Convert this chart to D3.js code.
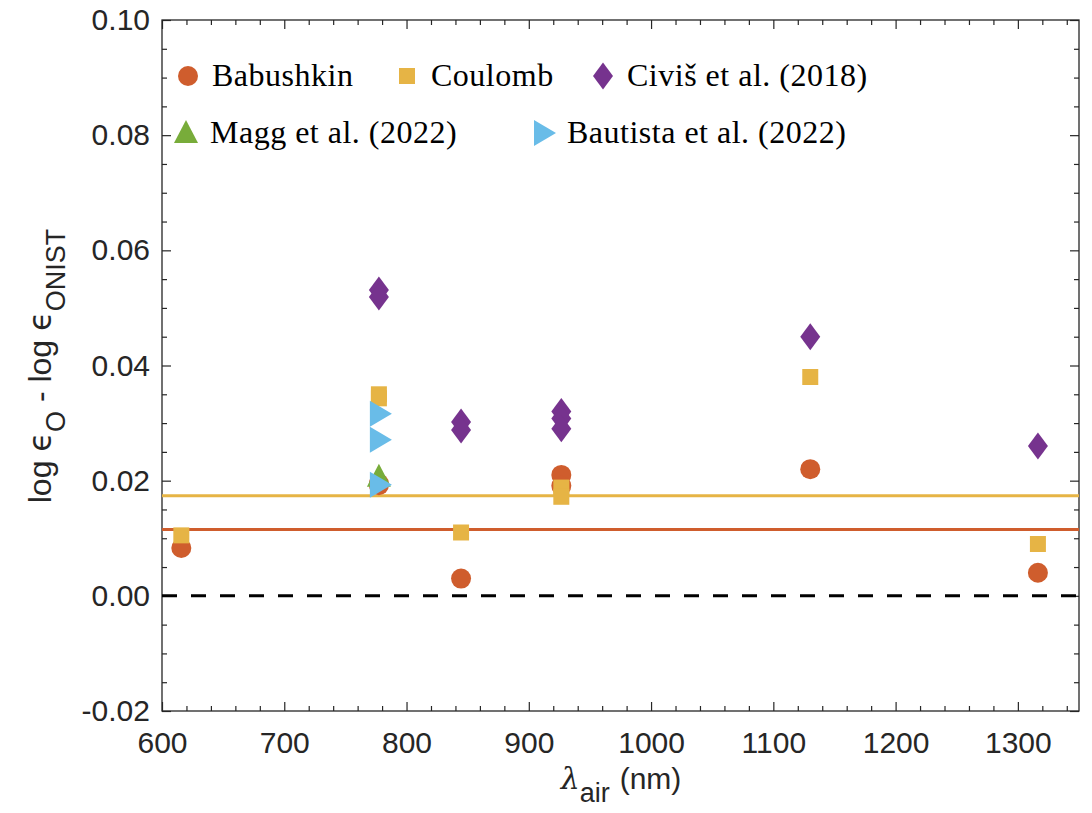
<!DOCTYPE html>
<html>
<head>
<meta charset="utf-8">
<script src="https://cdn.jsdelivr.net/npm/d3@7"></script>
<style>
  body { margin: 0; background: #fff; }
  svg { display: block; }
</style>
</head>
<body>
<svg id="chart" width="1092" height="813"></svg>
<script>
"use strict";

// wavelengths (nm) and abundance differences
const babushkinX = [615.8, 777.4, 777.4, 844.6, 926.6, 926.6, 1130.2, 1316.4];
const babushkinY = [0.0083, 0.0195, 0.0192, 0.003, 0.021, 0.0191, 0.022, 0.004];

const coulombX = [615.8, 777.4, 777.4, 844.6, 926.6, 926.6, 1130.2, 1316.4];
const coulombY = [0.0105, 0.035, 0.0343, 0.011, 0.0188, 0.0172, 0.038, 0.009];

const civisX = [777.4, 777.4, 844.6, 844.6, 926.6, 926.6, 926.6, 1130.2, 1316.4];
const civisY = [0.0531, 0.0519, 0.0302, 0.0288, 0.032, 0.0308, 0.029, 0.045, 0.026];

const maggX = [777.4];
const maggY = [0.0207];

const bautistaX = [777.4, 777.4, 777.4];
const bautistaY = [0.0316, 0.0271, 0.0193];

// mean offsets drawn as horizontal lines
const babushkinMean = 0.0115;
const coulombMean = 0.0174;

const xTicks = [600, 700, 800, 900, 1000, 1100, 1200, 1300];
const yTicks = [-0.02, 0, 0.02, 0.04, 0.06, 0.08, 0.1];

const colors = {
  babushkin: "#cf5d2d",
  coulomb: "#e6b445",
  civis: "#76338e",
  magg: "#78ac3a",
  bautista: "#69bce8",
};

const svg = d3.select("#chart");
const dims = { left: 162, right: 1079, top: 20, bottom: 711 };

const x = d3.scaleLinear().domain([600, 1350]).range([dims.left, dims.right]);
const y = d3.scaleLinear().domain([-0.02, 0.1]).range([dims.bottom, dims.top]);

// marker shapes, centred on 0,0
function markerPath(shape) {
  switch (shape) {
    case "circle":
      return "M10,0A10,10 0 1,1 -10,0A10,10 0 1,1 10,0Z";
    case "square":
      return "M-8,-8H8V8H-8Z";
    case "diamond":
      return "M0,-13.5L10,0L0,13.5L-10,0Z";
    case "triangle":
      return "M0,-13L12,10H-12Z";
    case "right":
      return "M-9,-13L13,0L-9,13Z";
  }
}

const series = [
  { name: "Babushkin", xs: babushkinX, ys: babushkinY, shape: "circle", color: colors.babushkin },
  { name: "Coulomb", xs: coulombX, ys: coulombY, shape: "square", color: colors.coulomb },
  { name: "Civiš et al. (2018)", xs: civisX, ys: civisY, shape: "diamond", color: colors.civis },
  { name: "Magg et al. (2022)", xs: maggX, ys: maggY, shape: "triangle", color: colors.magg },
  { name: "Bautista et al. (2022)", xs: bautistaX, ys: bautistaY, shape: "right", color: colors.bautista },
];

// Axes (ticks point inward on all four sides)
const axisColor = "#262626";
const minorX = d3.range(600, 1351, 20).filter((d) => d % 100 !== 0);
const minorY = d3.range(-0.02, 0.1001, 0.005).filter((d) => Math.abs(Math.round(d * 1000) % 20) !== 0);

function styleAxis(g) {
  g.select(".domain").remove();
  g.selectAll("line").attr("stroke", axisColor).attr("stroke-width", 1.2);
  g.selectAll("text")
    .attr("fill", axisColor)
    .attr("font-family", "'Liberation Sans', Arial, sans-serif")
    .attr("font-size", 30);
}

svg.append("g")
  .attr("transform", `translate(0,${dims.bottom})`)
  .call(d3.axisBottom(x).tickValues(xTicks).tickSizeInner(-9).tickSizeOuter(0).tickPadding(21)
    .tickFormat((d) => String(d)))
  .call(styleAxis);
svg.append("g")
  .attr("transform", `translate(0,${dims.bottom})`)
  .call(d3.axisBottom(x).tickValues(minorX).tickSizeInner(-5).tickSizeOuter(0).tickFormat(""))
  .call(styleAxis);
svg.append("g")
  .attr("transform", `translate(0,${dims.top})`)
  .call(d3.axisTop(x).tickValues(xTicks).tickSizeInner(-9).tickSizeOuter(0).tickFormat(""))
  .call(styleAxis);
svg.append("g")
  .attr("transform", `translate(0,${dims.top})`)
  .call(d3.axisTop(x).tickValues(minorX).tickSizeInner(-5).tickSizeOuter(0).tickFormat(""))
  .call(styleAxis);

svg.append("g")
  .attr("transform", `translate(${dims.left},0)`)
  .call(d3.axisLeft(y).tickValues(yTicks).tickSizeInner(-9).tickSizeOuter(0).tickPadding(12)
    .tickFormat((d) => d.toFixed(2)))
  .call(styleAxis);
svg.append("g")
  .attr("transform", `translate(${dims.left},0)`)
  .call(d3.axisLeft(y).tickValues(minorY).tickSizeInner(-5).tickSizeOuter(0).tickFormat(""))
  .call(styleAxis);
svg.append("g")
  .attr("transform", `translate(${dims.right},0)`)
  .call(d3.axisRight(y).tickValues(yTicks).tickSizeInner(-9).tickSizeOuter(0).tickFormat(""))
  .call(styleAxis);
svg.append("g")
  .attr("transform", `translate(${dims.right},0)`)
  .call(d3.axisRight(y).tickValues(minorY).tickSizeInner(-5).tickSizeOuter(0).tickFormat(""))
  .call(styleAxis);

// Box
svg.append("rect")
  .attr("x", dims.left)
  .attr("y", dims.top)
  .attr("width", dims.right - dims.left)
  .attr("height", dims.bottom - dims.top)
  .attr("fill", "none")
  .attr("stroke", axisColor)
  .attr("stroke-width", 1.3);

const plot = svg.append("g");

// Reference lines
plot.append("line")
  .attr("x1", x(600)).attr("x2", x(1350))
  .attr("y1", y(0)).attr("y2", y(0))
  .attr("stroke", "#000")
  .attr("stroke-width", 3)
  .attr("stroke-dasharray", "15,14");

[[babushkinMean, colors.babushkin], [coulombMean, colors.coulomb]].forEach(([v, c]) => {
  plot.append("line")
    .attr("x1", x(600)).attr("x2", x(1350))
    .attr("y1", y(v)).attr("y2", y(v))
    .attr("stroke", c)
    .attr("stroke-width", 3);
});

// Data markers
series.forEach((s) => {
  const pts = s.xs.map((d, i) => ({ wl: d, val: s.ys[i] }));
  plot.append("g")
    .selectAll("path")
    .data(pts)
    .enter()
    .append("path")
    .attr("d", markerPath(s.shape))
    .attr("transform", (d) => `translate(${x(d.wl)},${y(d.val)})`)
    .attr("fill", s.color);
});

// Legend
const legendItems = [
  { s: series[0], mx: 188, my: 76 },
  { s: series[1], mx: 407, my: 76 },
  { s: series[2], mx: 603, my: 76 },
  { s: series[3], mx: 186, my: 133 },
  { s: series[4], mx: 543, my: 133 },
];
const legend = svg.append("g");
legendItems.forEach((item) => {
  legend.append("path")
    .attr("d", markerPath(item.s.shape))
    .attr("transform", `translate(${item.mx},${item.my})`)
    .attr("fill", item.s.color);
  legend.append("text")
    .attr("x", item.mx + 24)
    .attr("y", item.my + 10)
    .attr("font-family", "'Liberation Serif', 'Times New Roman', serif")
    .attr("font-size", 32)
    .attr("letter-spacing", 0.5)
    .attr("fill", "#000")
    .text(item.s.name);
});

// Axis titles
const xLabel = svg.append("text")
  .attr("x", 621)
  .attr("y", 789)
  .attr("text-anchor", "middle")
  .attr("font-family", "'Liberation Sans', Arial, sans-serif")
  .attr("font-size", 30)
  .attr("fill", axisColor);
xLabel.append("tspan").attr("font-family", "'DejaVu Serif', serif").attr("font-style", "italic").text("λ");
xLabel.append("tspan").attr("font-size", 27).attr("dy", 13).text("air");
xLabel.append("tspan").attr("dy", -13).attr("dx", 10).text("(nm)");

const yLabel = svg.append("text")
  .attr("transform", "translate(51,366) rotate(-90)")
  .attr("text-anchor", "middle")
  .attr("font-family", "'Liberation Sans', Arial, sans-serif")
  .attr("font-size", 32)
  .attr("fill", axisColor);
yLabel.append("tspan").text("log ");
yLabel.append("tspan").attr("font-family", "'DejaVu Sans', sans-serif").text("ϵ");
yLabel.append("tspan").attr("font-size", 27).attr("dy", 14).text("O");
yLabel.append("tspan").attr("dy", -14).text(" - log ");
yLabel.append("tspan").attr("font-family", "'DejaVu Sans', sans-serif").text("ϵ");
yLabel.append("tspan").attr("font-size", 27).attr("dy", 14).text("ONIST");
</script>
</body>
</html>
